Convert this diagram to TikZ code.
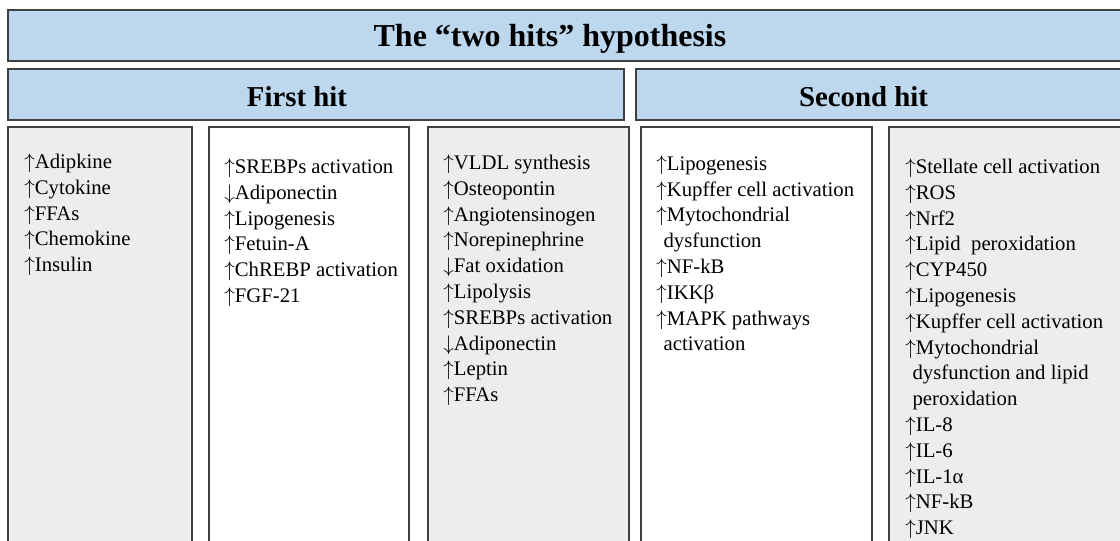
\documentclass[tikz,border=0pt]{standalone}
\usepackage{fontspec}
\setmainfont{Liberation Serif}
\definecolor{hdrblue}{HTML}{BDD7EE}
\definecolor{boxgrey}{HTML}{EDEDED}
\definecolor{edgegrey}{HTML}{404040}
\newcommand{\up}{\ensuremath{\uparrow}}
\newcommand{\dn}{\ensuremath{\downarrow}}
\newcommand{\cont}{\hspace*{0.35em}}
\begin{document}
\begin{tikzpicture}[x=0.02cm, y=-0.02cm,
  hdrbox/.style={draw=edgegrey, line width=0.9pt, fill=hdrblue},
  colbox/.style={draw=edgegrey, line width=0.7pt},
  hdrtext/.style={anchor=base, inner sep=0pt, font=\bfseries\fontsize{16.4}{19}\selectfont},
  listtext/.style={anchor=north west, inner sep=0pt, align=left, font=\fontsize{11.8}{14.68}\selectfont}]
\useasboundingbox (0,0) rectangle (1120,541);
\clip (0,0) rectangle (1120,541);
% header bars
\path[hdrbox] (8,10) rectangle (1130,61);
\path[hdrbox] (8,69) rectangle (624,120);
\path[hdrbox] (636,69) rectangle (1130,120);
\node[hdrtext, font=\bfseries\fontsize{18.2}{22}\selectfont] (title) at (550,47) {The “two hits” hypothesis};
\node[hdrtext] (first) at (297,106) {First hit};
\node[hdrtext] (second) at (863.5,106) {Second hit};
% columns
\path[colbox, fill=boxgrey] (8,127) rectangle (192,560);
\path[colbox, fill=white] (209,127) rectangle (409,560);
\path[colbox, fill=boxgrey] (428,127) rectangle (629,560);
\path[colbox, fill=white] (641,127) rectangle (872,560);
\path[colbox, fill=boxgrey] (889,127) rectangle (1130,560);
\node[listtext] (adipose) at (24,150.2) {\strut\up Adipkine\\\up Cytokine\\\up FFAs\\\up Chemokine\\\up Insulin};
\node[listtext] (liver) at (224,155.2) {\strut\up SREBPs activation\\\dn Adiponectin\\\up Lipogenesis\\\up Fetuin-A\\\up ChREBP activation\\\up FGF-21};
\node[listtext] (fat) at (443,151.2) {\strut\up VLDL synthesis\\\up Osteopontin\\\up Angiotensinogen\\\up Norepinephrine\\\dn Fat oxidation\\\up Lipolysis\\\up SREBPs activation\\\dn Adiponectin\\\up Leptin\\\up FFAs};
\node[listtext] (kupffer) at (656,152) {\strut\up Lipogenesis\\\up Kupffer cell activation\\\up Mytochondrial\\\cont dysfunction\\\up NF-kB\\\up IKKβ\\\up MAPK pathways\\\cont activation};
\node[listtext] (stellate) at (905,155.2) {\strut\up Stellate cell activation\\\up ROS\\\up Nrf2\\\up Lipid\ \ peroxidation\\\up CYP450\\\up Lipogenesis\\\up Kupffer cell activation\\\up Mytochondrial\\\cont dysfunction and lipid\\\cont peroxidation\\\up IL-8\\\up IL-6\\\up IL-1α\\\up NF-kB\\\up JNK};
\end{tikzpicture}
\end{document}
